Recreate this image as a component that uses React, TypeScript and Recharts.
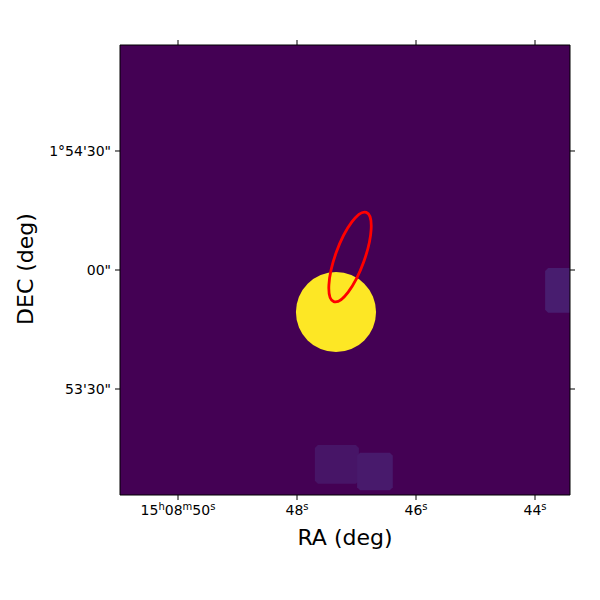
import { ComposedChart, XAxis, YAxis, Scatter, ReferenceArea } from "recharts";

// sky window (RA seconds past 15h08m, Dec arcsec relative to +1°54'00")
const RA_MIN = 43.412;
const RA_MAX = 50.975;
const DEC_MIN = -56.72;
const DEC_MAX = 56.72;

const raTicks = [50, 48, 46, 44];
const raTickLabels = [
  [["15", "h"], ["08", "m"], ["50", "s"]],
  [["48", "s"]],
  [["46", "s"]],
  [["44", "s"]],
];
const decTicks = [30, 0, -30];
const decTickLabels = ["1°54'30\"", "00\"", "53'30\""];

// bright source (disk) and error ellipse
const sources = [{ ra: 47.345, dec: -10.6, radius: 10.1 }];
const ellipses = [{ ra: 47.109, dec: 3.28, a: 11.97, b: 3.66, pa: 20 }];

// faint background patches (the last one runs to the right edge)
const patchRa1 = [47.7, 46.99, 43.83];
const patchRa2 = [46.96, 46.39, 43.412];
const patchDec1 = [-44.1, -46.1, 0.5];
const patchDec2 = [-53.9, -55.5, -10.8];
const patchColors = ["#471567", "#481a6c", "#481d6f"];

const W = 600;
const H = 600;
// plot area: x 120..570, y 45..495
const AX_B = 30;
const AX_T = 20;
const AX_L = 60;
const AX_R = 10;
const M = { top: 45 - AX_T, right: 30 - AX_R, bottom: 105 - AX_B, left: 120 - AX_L };
const PLOT_RIGHT = W - 30;
const PLOT_H = 450;
const PX_PER_ARCSEC = PLOT_H / (DEC_MAX - DEC_MIN);

const FONT = "DejaVu Sans";

const BottomTick = ({ x, y, index }: any) => {
  const parts = raTickLabels[index] || [];
  return (
    <text x={x} y={y + 15} textAnchor="middle" fontFamily={FONT} fontSize={14} fill="#000">
      {parts.map(([main, sup], i) => [
        <tspan key={`m${i}`} dy={i > 0 ? 5 : 0}>{main}</tspan>,
        <tspan key={`s${i}`} fontSize={10} dy={-5}>{sup}</tspan>,
      ])}
    </text>
  );
};

const LeftTick = ({ x, y, index }: any) => (
  <text x={x - 4} y={y + 5} textAnchor="end" fontFamily={FONT} fontSize={14} fill="#000">
    {decTickLabels[index]}
  </text>
);

const NoTick = () => <g />;

// block with clipped corners; corners sitting on the right frame stay square
const Octagon = ({ x, y, width, height, fill }: any) => {
  const c = 3;
  const cr = x + width >= PLOT_RIGHT - 0.5 ? 0 : c;
  const d = `M${x + c},${y} L${x + width - cr},${y} L${x + width},${y + cr} L${x + width},${y + height - cr} L${x + width - cr},${y + height} L${x + c},${y + height} L${x},${y + height - c} L${x},${y + c} Z`;
  return <path d={d} fill={fill} stroke="none" />;
};

const Disk = ({ cx, cy, payload }: any) => (
  <circle cx={cx} cy={cy} r={payload.radius * PX_PER_ARCSEC} fill="#fde725" />
);

const ErrEllipse = ({ cx, cy, payload }: any) => (
  <ellipse
    cx={cx}
    cy={cy}
    rx={payload.b * PX_PER_ARCSEC}
    ry={payload.a * PX_PER_ARCSEC}
    transform={`rotate(${payload.pa} ${cx} ${cy})`}
    fill="none"
    stroke="#ff0000"
    strokeWidth={2.8}
  />
);

export default function App() {
  return (
    <div style={{ position: "absolute", left: 0, top: 0, width: W, height: H, background: "#fff" }}>
      <ComposedChart width={W} height={H} margin={M}>
        <ReferenceArea
          xAxisId="b"
          yAxisId="l"
          x1={RA_MIN}
          x2={RA_MAX}
          y1={DEC_MIN}
          y2={DEC_MAX}
          fill="#440154"
          fillOpacity={1}
          stroke="none"
          ifOverflow="hidden"
        />
        {patchRa1.map((r1, i) => (
          <ReferenceArea
            key={i}
            xAxisId="b"
            yAxisId="l"
            x1={r1}
            x2={patchRa2[i]}
            y1={patchDec1[i]}
            y2={patchDec2[i]}
            fill={patchColors[i]}
            fillOpacity={1}
            ifOverflow="hidden"
            shape={<Octagon />}
          />
        ))}
        <Scatter
          xAxisId="b"
          yAxisId="l"
          data={sources}
          shape={<Disk />}
          isAnimationActive={false}
        />
        <Scatter
          xAxisId="b"
          yAxisId="l"
          data={ellipses}
          shape={<ErrEllipse />}
          isAnimationActive={false}
        />
        <XAxis
          xAxisId="b"
          dataKey="ra"
          type="number"
          orientation="bottom"
          domain={[RA_MIN, RA_MAX]}
          reversed
          allowDataOverflow
          ticks={raTicks}
          height={AX_B}
          tickSize={5}
          tickMargin={0}
          tick={<BottomTick />}
          axisLine={{ stroke: "#000", strokeWidth: 1 }}
          tickLine={{ stroke: "#000", strokeWidth: 1 }}
          interval={0}
        />
        <XAxis
          xAxisId="t"
          dataKey="ra"
          type="number"
          orientation="top"
          domain={[RA_MIN, RA_MAX]}
          reversed
          allowDataOverflow
          ticks={raTicks}
          height={AX_T}
          tickSize={5}
          tickMargin={0}
          tick={<NoTick />}
          axisLine={{ stroke: "#000", strokeWidth: 1 }}
          tickLine={{ stroke: "#000", strokeWidth: 1 }}
          interval={0}
        />
        <YAxis
          yAxisId="l"
          dataKey="dec"
          type="number"
          orientation="left"
          domain={[DEC_MIN, DEC_MAX]}
          allowDataOverflow
          ticks={decTicks}
          width={AX_L}
          tickSize={5}
          tickMargin={0}
          tick={<LeftTick />}
          axisLine={{ stroke: "#000", strokeWidth: 1 }}
          tickLine={{ stroke: "#000", strokeWidth: 1 }}
          interval={0}
        />
        <YAxis
          yAxisId="r"
          dataKey="dec"
          type="number"
          orientation="right"
          domain={[DEC_MIN, DEC_MAX]}
          allowDataOverflow
          ticks={decTicks}
          width={AX_R}
          tickSize={5}
          tick={<NoTick />}
          axisLine={{ stroke: "#000", strokeWidth: 1 }}
          tickLine={{ stroke: "#000", strokeWidth: 1 }}
          interval={0}
        />
      </ComposedChart>
      <div
        style={{
          position: "absolute",
          left: 120,
          width: 450,
          top: 525,
          textAlign: "center",
          fontFamily: FONT,
          fontSize: 22,
          lineHeight: "26px",
        }}
      >
        RA (deg)
      </div>
      <div
        style={{
          position: "absolute",
          left: 26,
          top: 269,
          transform: "translate(-50%, -50%) rotate(-90deg)",
          whiteSpace: "nowrap",
          fontFamily: FONT,
          fontSize: 22,
          lineHeight: "26px",
        }}
      >
        DEC (deg)
      </div>
    </div>
  );
}
